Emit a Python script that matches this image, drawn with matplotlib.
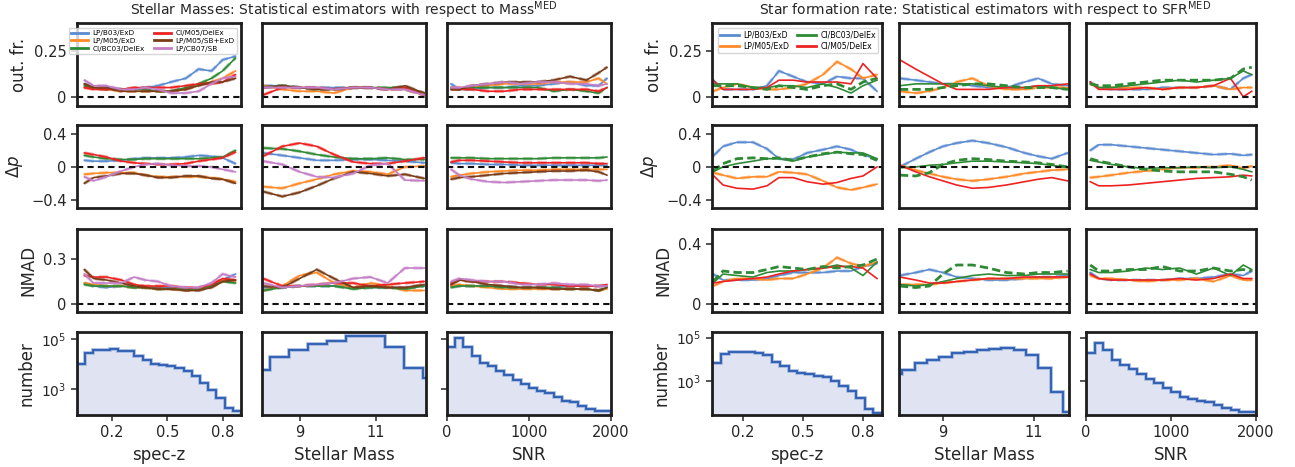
import numpy as np
import matplotlib
matplotlib.use('Agg')
import matplotlib.pyplot as plt
from matplotlib.lines import Line2D
from matplotlib.ticker import LogLocator, NullFormatter, FixedLocator, FixedFormatter

plt.rcParams['font.family'] = ['DejaVu Sans']
plt.rcParams['mathtext.fontset'] = 'dejavusans'

# ---------------------------------------------------------------- data
NAMES_M = ['LP/B03/ExD', 'LP/M05/ExD', 'CI/BC03/DelEx', 'CI/M05/DelEx', 'LP/M05/SB+ExD', 'LP/CB07/SB']
NAMES_S = ['LP/B03/ExD', 'LP/M05/ExD', 'CI/BC03/DelEx', 'CI/M05/DelEx']
COLORS = {'LP/B03/ExD': '#5b8bd0', 'LP/M05/ExD': '#ff8a27', 'CI/BC03/DelEx': '#2e8a35',
          'CI/M05/DelEx': '#ee2222', 'LP/M05/SB+ExD': '#7a3b17', 'LP/CB07/SB': '#c47fc7'}

Z_X = [0.05, 0.10, 0.17, 0.25, 0.32, 0.38, 0.45, 0.52, 0.60, 0.67, 0.74, 0.80, 0.87]
M_X = [8.05, 8.55, 9.0, 9.45, 9.9, 10.4, 10.85, 11.3, 11.75, 12.25]
MR_X = [8.05, 8.4, 8.7, 9.0, 9.3, 9.65, 10.0, 10.4, 10.8, 11.1, 11.4, 11.75]
S_X = [50, 150, 300, 500, 700, 900, 1100, 1300, 1500, 1700, 1850, 1950]

# ---- Stellar mass group: outlier fraction
MASS_OUT_Z = {
    'LP/B03/ExD':    [0.07, 0.05, 0.05, 0.04, 0.04, 0.05, 0.06, 0.08, 0.10, 0.15, 0.14, 0.20, 0.22],
    'LP/M05/ExD':    [0.05, 0.05, 0.04, 0.03, 0.03, 0.03, 0.03, 0.03, 0.04, 0.07, 0.08, 0.10, 0.14],
    'CI/BC03/DelEx': [0.06, 0.05, 0.04, 0.04, 0.04, 0.04, 0.03, 0.03, 0.05, 0.07, 0.10, 0.14, 0.21],
    'CI/M05/DelEx':  [0.05, 0.04, 0.04, 0.04, 0.05, 0.05, 0.05, 0.05, 0.06, 0.07, 0.07, 0.08, 0.12],
    'LP/M05/SB+ExD': [0.07, 0.05, 0.05, 0.03, 0.03, 0.03, 0.03, 0.03, 0.04, 0.06, 0.08, 0.08, 0.10],
    'LP/CB07/SB':    [0.09, 0.06, 0.06, 0.04, 0.04, 0.05, 0.04, 0.02, 0.02, 0.03, 0.07, 0.10, 0.11],
}
MASS_OUT_M = {
    'LP/B03/ExD':    [0.06, 0.06, 0.05, 0.05, 0.05, 0.05, 0.05, 0.04, 0.04, 0.01],
    'LP/M05/ExD':    [0.06, 0.04, 0.03, 0.03, 0.02, 0.05, 0.05, 0.04, 0.04, 0.01],
    'CI/BC03/DelEx': [0.05, 0.06, 0.05, 0.04, 0.04, 0.05, 0.05, 0.05, 0.05, 0.02],
    'CI/M05/DelEx':  [0.01, 0.05, 0.05, 0.05, 0.04, 0.05, 0.05, 0.04, 0.05, 0.01],
    'LP/M05/SB+ExD': [0.05, 0.06, 0.05, 0.04, 0.04, 0.05, 0.05, 0.04, 0.06, 0.02],
    'LP/CB07/SB':    [0.05, 0.05, 0.05, 0.05, 0.04, 0.05, 0.05, 0.04, 0.04, 0.01],
}
MASS_OUT_S = {
    'LP/B03/ExD':    [0.07, 0.04, 0.04, 0.05, 0.05, 0.06, 0.06, 0.07, 0.08, 0.06, 0.06, 0.10],
    'LP/M05/ExD':    [0.05, 0.05, 0.05, 0.06, 0.07, 0.07, 0.07, 0.08, 0.08, 0.08, 0.10, 0.07],
    'CI/BC03/DelEx': [0.05, 0.04, 0.05, 0.05, 0.05, 0.05, 0.05, 0.03, 0.04, 0.03, 0.02, 0.05],
    'CI/M05/DelEx':  [0.04, 0.04, 0.04, 0.03, 0.03, 0.04, 0.04, 0.04, 0.04, 0.04, 0.03, 0.05],
    'LP/M05/SB+ExD': [0.04, 0.04, 0.06, 0.07, 0.08, 0.08, 0.08, 0.09, 0.11, 0.09, 0.13, 0.16],
    'LP/CB07/SB':    [0.05, 0.05, 0.06, 0.07, 0.08, 0.07, 0.08, 0.08, 0.07, 0.07, 0.06, 0.07],
}
# ---- Stellar mass group: bias
MASS_DP_Z = {
    'LP/B03/ExD':    [0.08, 0.07, 0.07, 0.08, 0.10, 0.11, 0.11, 0.11, 0.12, 0.14, 0.13, 0.11, 0.04],
    'LP/M05/ExD':    [-0.09, -0.08, -0.07, -0.07, -0.07, -0.10, -0.12, -0.12, -0.12, -0.12, -0.13, -0.15, -0.18],
    'CI/BC03/DelEx': [0.14, 0.12, 0.10, 0.09, 0.09, 0.10, 0.10, 0.10, 0.10, 0.10, 0.11, 0.12, 0.20],
    'CI/M05/DelEx':  [0.17, 0.15, 0.12, 0.07, 0.05, 0.04, 0.03, 0.03, 0.04, 0.07, 0.09, 0.11, 0.18],
    'LP/M05/SB+ExD': [-0.20, -0.13, -0.11, -0.08, -0.08, -0.10, -0.13, -0.13, -0.11, -0.11, -0.14, -0.15, -0.20],
    'LP/CB07/SB':    [-0.12, -0.17, -0.12, -0.05, 0.00, 0.03, 0.04, 0.02, 0.01, 0.01, 0.00, -0.03, -0.06],
}
MASS_DP_M = {
    'LP/B03/ExD':    [0.17, 0.14, 0.11, 0.08, 0.08, 0.09, 0.09, 0.08, 0.07, 0.05],
    'LP/M05/ExD':    [-0.24, -0.26, -0.20, -0.15, -0.09, -0.05, -0.06, -0.09, 0.00, 0.01],
    'CI/BC03/DelEx': [0.23, 0.22, 0.19, 0.15, 0.12, 0.10, 0.10, 0.11, 0.09, 0.09],
    'CI/M05/DelEx':  [0.13, 0.25, 0.29, 0.25, 0.15, 0.06, 0.04, 0.04, 0.07, 0.11],
    'LP/M05/SB+ExD': [-0.30, -0.36, -0.31, -0.23, -0.14, -0.06, -0.08, -0.11, -0.09, -0.14],
    'LP/CB07/SB':    [0.07, 0.03, -0.06, -0.12, -0.13, -0.08, 0.02, 0.04, -0.16, -0.17],
}
MASS_DP_S = {
    'LP/B03/ExD':    [0.05, 0.04, 0.04, 0.03, 0.03, 0.02, 0.02, 0.02, 0.02, 0.02, 0.02, 0.02],
    'LP/M05/ExD':    [-0.12, -0.10, -0.08, -0.06, -0.05, -0.04, -0.04, -0.03, -0.03, -0.03, -0.03, -0.03],
    'CI/BC03/DelEx': [0.11, 0.11, 0.11, 0.10, 0.10, 0.10, 0.10, 0.11, 0.11, 0.11, 0.11, 0.12],
    'CI/M05/DelEx':  [0.06, 0.08, 0.08, 0.07, 0.06, 0.05, 0.05, 0.05, 0.05, 0.05, 0.04, 0.04],
    'LP/M05/SB+ExD': [-0.15, -0.13, -0.12, -0.10, -0.08, -0.07, -0.06, -0.05, -0.05, -0.04, -0.06, -0.10],
    'LP/CB07/SB':    [-0.03, -0.10, -0.15, -0.18, -0.19, -0.18, -0.17, -0.16, -0.16, -0.16, -0.17, -0.16],
}
# ---- Stellar mass group: NMAD
MASS_NMAD_Z = {
    'LP/B03/ExD':    [0.14, 0.12, 0.11, 0.12, 0.11, 0.11, 0.11, 0.11, 0.10, 0.10, 0.12, 0.16, 0.20],
    'LP/M05/ExD':    [0.14, 0.13, 0.12, 0.12, 0.11, 0.11, 0.10, 0.10, 0.09, 0.10, 0.12, 0.16, 0.15],
    'CI/BC03/DelEx': [0.13, 0.12, 0.12, 0.12, 0.11, 0.11, 0.10, 0.10, 0.10, 0.10, 0.12, 0.15, 0.14],
    'CI/M05/DelEx':  [0.19, 0.18, 0.18, 0.16, 0.13, 0.12, 0.12, 0.12, 0.11, 0.11, 0.13, 0.17, 0.16],
    'LP/M05/SB+ExD': [0.23, 0.17, 0.16, 0.14, 0.12, 0.11, 0.10, 0.10, 0.09, 0.09, 0.11, 0.15, 0.16],
    'LP/CB07/SB':    [0.20, 0.14, 0.14, 0.14, 0.18, 0.16, 0.15, 0.12, 0.11, 0.11, 0.14, 0.20, 0.18],
}
MASS_NMAD_M = {
    'LP/B03/ExD':    [0.11, 0.11, 0.12, 0.12, 0.12, 0.11, 0.11, 0.11, 0.11, 0.12],
    'LP/M05/ExD':    [0.09, 0.12, 0.19, 0.21, 0.14, 0.11, 0.14, 0.12, 0.09, 0.09],
    'CI/BC03/DelEx': [0.09, 0.11, 0.12, 0.12, 0.12, 0.10, 0.11, 0.11, 0.10, 0.12],
    'CI/M05/DelEx':  [0.17, 0.12, 0.12, 0.13, 0.14, 0.14, 0.12, 0.13, 0.14, 0.15],
    'LP/M05/SB+ExD': [0.12, 0.11, 0.17, 0.23, 0.17, 0.11, 0.12, 0.11, 0.11, 0.13],
    'LP/CB07/SB':    [0.14, 0.11, 0.12, 0.13, 0.14, 0.17, 0.18, 0.14, 0.24, 0.24],
}
MASS_NMAD_S = {
    'LP/B03/ExD':    [0.12, 0.12, 0.12, 0.12, 0.12, 0.11, 0.11, 0.11, 0.12, 0.12, 0.12, 0.12],
    'LP/M05/ExD':    [0.12, 0.13, 0.12, 0.11, 0.10, 0.10, 0.10, 0.10, 0.10, 0.10, 0.09, 0.10],
    'CI/BC03/DelEx': [0.11, 0.12, 0.12, 0.12, 0.11, 0.11, 0.11, 0.11, 0.10, 0.10, 0.09, 0.11],
    'CI/M05/DelEx':  [0.14, 0.16, 0.15, 0.15, 0.15, 0.14, 0.13, 0.13, 0.12, 0.12, 0.12, 0.13],
    'LP/M05/SB+ExD': [0.13, 0.16, 0.15, 0.13, 0.12, 0.11, 0.11, 0.10, 0.10, 0.10, 0.09, 0.11],
    'LP/CB07/SB':    [0.15, 0.17, 0.16, 0.15, 0.15, 0.13, 0.13, 0.14, 0.13, 0.13, 0.12, 0.12],
}

# ---- SFR group (solid lines) ; green dashed variant separately
SFR_OUT_Z = {
    'LP/B03/ExD':    [0.09, 0.04, 0.04, 0.04, 0.06, 0.14, 0.11, 0.08, 0.07, 0.11, 0.10, 0.10, 0.03],
    'LP/M05/ExD':    [0.03, 0.05, 0.07, 0.05, 0.04, 0.04, 0.05, 0.07, 0.12, 0.19, 0.15, 0.10, 0.12],
    'CI/BC03/DelEx': [0.07, 0.07, 0.07, 0.05, 0.05, 0.06, 0.06, 0.05, 0.07, 0.05, 0.02, 0.06, 0.09],
    'CI/M05/DelEx':  [0.09, 0.04, 0.04, 0.04, 0.05, 0.09, 0.09, 0.08, 0.08, 0.08, 0.07, 0.18, 0.10],
}
SFR_OUT_Z_GREEN_DASH = [0.06, 0.06, 0.06, 0.05, 0.04, 0.06, 0.05, 0.04, 0.06, 0.07, 0.04, 0.08, 0.10]
SFR_OUT_M = {
    'LP/B03/ExD':    [0.10, 0.09, 0.08, 0.07, 0.07, 0.06, 0.05, 0.05, 0.08, 0.10, 0.07, 0.06],
    'LP/M05/ExD':    [0.03, 0.02, 0.03, 0.05, 0.08, 0.10, 0.06, 0.04, 0.04, 0.05, 0.05, 0.05],
    'CI/BC03/DelEx': [0.06, 0.07, 0.07, 0.07, 0.07, 0.07, 0.06, 0.05, 0.05, 0.06, 0.05, 0.04],
    'CI/M05/DelEx':  [0.20, 0.15, 0.11, 0.07, 0.04, 0.04, 0.04, 0.05, 0.05, 0.06, 0.06, 0.07],
}
SFR_OUT_M_GREEN_DASH = [0.04, 0.04, 0.04, 0.05, 0.06, 0.07, 0.07, 0.06, 0.05, 0.05, 0.05, 0.04]
SFR_OUT_S = {
    'LP/B03/ExD':    [0.08, 0.05, 0.04, 0.04, 0.04, 0.05, 0.05, 0.05, 0.06, 0.04, 0.10, 0.12],
    'LP/M05/ExD':    [0.07, 0.05, 0.05, 0.05, 0.05, 0.04, 0.05, 0.05, 0.06, 0.04, 0.05, 0.05],
    'CI/BC03/DelEx': [0.07, 0.05, 0.05, 0.06, 0.07, 0.08, 0.09, 0.08, 0.09, 0.10, 0.14, 0.12],
    'CI/M05/DelEx':  [0.08, 0.04, 0.04, 0.04, 0.05, 0.04, 0.05, 0.05, 0.06, 0.10, 0.00, 0.03],
}
SFR_OUT_S_GREEN_DASH = [0.07, 0.06, 0.06, 0.07, 0.08, 0.09, 0.09, 0.09, 0.09, 0.10, 0.15, 0.16]

SFR_DP_Z = {
    'LP/B03/ExD':    [0.13, 0.25, 0.30, 0.30, 0.22, 0.10, 0.09, 0.17, 0.21, 0.25, 0.21, 0.15, 0.09],
    'LP/M05/ExD':    [-0.07, -0.10, -0.14, -0.12, -0.12, -0.06, -0.07, -0.09, -0.17, -0.25, -0.28, -0.25, -0.21],
    'CI/BC03/DelEx': [-0.06, 0.00, 0.04, 0.07, 0.10, 0.10, 0.07, 0.12, 0.15, 0.18, 0.17, 0.17, 0.10],
    'CI/M05/DelEx':  [-0.10, -0.22, -0.26, -0.27, -0.23, -0.13, -0.13, -0.18, -0.21, -0.19, -0.14, -0.11, 0.00],
}
SFR_DP_Z_GREEN_DASH = [-0.05, 0.04, 0.10, 0.11, 0.10, 0.11, 0.08, 0.12, 0.16, 0.18, 0.16, 0.15, 0.08]
SFR_DP_M = {
    'LP/B03/ExD':    [0.00, 0.10, 0.18, 0.25, 0.29, 0.32, 0.29, 0.24, 0.17, 0.13, 0.10, 0.17],
    'LP/M05/ExD':    [0.02, -0.04, -0.08, -0.12, -0.15, -0.17, -0.15, -0.12, -0.08, -0.06, -0.04, -0.03],
    'CI/BC03/DelEx': [-0.01, 0.00, 0.02, 0.03, 0.05, 0.07, 0.07, 0.06, 0.05, 0.04, 0.02, -0.01],
    'CI/M05/DelEx':  [0.02, -0.06, -0.12, -0.17, -0.22, -0.26, -0.25, -0.22, -0.18, -0.15, -0.13, -0.17],
}
SFR_DP_M_GREEN_DASH = [-0.10, -0.11, -0.07, 0.03, 0.08, 0.10, 0.09, 0.07, 0.06, 0.05, 0.03, 0.00]
SFR_DP_S = {
    'LP/B03/ExD':    [0.20, 0.27, 0.27, 0.25, 0.23, 0.21, 0.19, 0.17, 0.15, 0.16, 0.14, 0.15],
    'LP/M05/ExD':    [-0.13, -0.12, -0.10, -0.07, -0.05, -0.03, -0.01, -0.01, 0.00, 0.02, -0.02, 0.01],
    'CI/BC03/DelEx': [0.08, 0.06, 0.03, 0.00, -0.02, -0.01, -0.01, 0.00, -0.01, 0.00, -0.03, -0.06],
    'CI/M05/DelEx':  [-0.18, -0.23, -0.23, -0.22, -0.20, -0.18, -0.16, -0.14, -0.13, -0.12, -0.10, -0.11],
}
SFR_DP_S_GREEN_DASH = [0.10, 0.07, 0.04, 0.00, -0.03, -0.05, -0.06, -0.06, -0.06, -0.09, -0.12, -0.16]

SFR_NMAD_Z = {
    'LP/B03/ExD':    [0.20, 0.16, 0.16, 0.16, 0.17, 0.19, 0.21, 0.21, 0.21, 0.22, 0.22, 0.25, 0.27],
    'LP/M05/ExD':    [0.12, 0.15, 0.17, 0.17, 0.16, 0.17, 0.17, 0.20, 0.24, 0.31, 0.27, 0.25, 0.28],
    'CI/BC03/DelEx': [0.14, 0.20, 0.19, 0.18, 0.21, 0.22, 0.22, 0.23, 0.24, 0.26, 0.24, 0.19, 0.28],
    'CI/M05/DelEx':  [0.14, 0.15, 0.16, 0.17, 0.18, 0.20, 0.22, 0.23, 0.24, 0.25, 0.25, 0.24, 0.17],
}
SFR_NMAD_Z_GREEN_DASH = [0.15, 0.22, 0.21, 0.21, 0.23, 0.25, 0.24, 0.23, 0.25, 0.24, 0.25, 0.26, 0.30]
SFR_NMAD_M = {
    'LP/B03/ExD':    [0.19, 0.21, 0.23, 0.21, 0.18, 0.17, 0.16, 0.16, 0.17, 0.18, 0.18, 0.19],
    'LP/M05/ExD':    [0.13, 0.13, 0.13, 0.14, 0.15, 0.16, 0.17, 0.17, 0.17, 0.17, 0.17, 0.18],
    'CI/BC03/DelEx': [0.13, 0.12, 0.13, 0.15, 0.17, 0.19, 0.20, 0.19, 0.19, 0.20, 0.20, 0.20],
    'CI/M05/DelEx':  [0.18, 0.16, 0.14, 0.14, 0.15, 0.16, 0.17, 0.17, 0.18, 0.18, 0.18, 0.18],
}
SFR_NMAD_M_GREEN_DASH = [0.12, 0.11, 0.12, 0.20, 0.26, 0.26, 0.24, 0.21, 0.20, 0.21, 0.21, 0.22]
SFR_NMAD_S = {
    'LP/B03/ExD':    [0.21, 0.17, 0.16, 0.16, 0.16, 0.16, 0.17, 0.17, 0.18, 0.20, 0.19, 0.22],
    'LP/M05/ExD':    [0.19, 0.17, 0.17, 0.16, 0.15, 0.16, 0.16, 0.17, 0.15, 0.19, 0.16, 0.16],
    'CI/BC03/DelEx': [0.23, 0.21, 0.21, 0.22, 0.24, 0.23, 0.24, 0.20, 0.24, 0.19, 0.26, 0.23],
    'CI/M05/DelEx':  [0.20, 0.17, 0.16, 0.16, 0.16, 0.16, 0.17, 0.16, 0.17, 0.20, 0.17, 0.17],
}
SFR_NMAD_S_GREEN_DASH = [0.26, 0.22, 0.22, 0.23, 0.23, 0.25, 0.22, 0.22, 0.24, 0.22, 0.23, 0.22]

# ---- histograms (counts per bin)
MASS_HZ_EDGES = np.linspace(0.01, 0.90, 21)
MASS_HZ = [10000, 27500, 37000, 37000, 40000, 31600, 31600, 20000, 14800, 10000,
           9300, 8500, 6800, 5000, 3200, 1700, 910, 420, 166, 126]
MASS_HM_EDGES = np.linspace(7.72, 12.72, 11)
MASS_HM = [5900, 18200, 36300, 63000, 85000, 126000, 126000, 45700, 6760, 2700]
HS_EDGES = np.linspace(0, 2000, 21)
MASS_HS = [46800, 107000, 49000, 20900, 11200, 8300, 5250, 3630, 2290, 1580,
           1120, 830, 680, 470, 330, 295, 215, 162, 135, 129]

SFR_HZ_EDGES = np.linspace(0.045, 0.895, 21)
SFR_HZ = [6900, 17400, 22400, 21400, 20900, 18600, 15500, 7600, 4800, 2950,
          2340, 2190, 1780, 1550, 1000, 600, 370, 166, 55, 36]
SFR_HM_EDGES = np.linspace(7.83, 11.925, 16)
SFR_HM = [2190, 3390, 6460, 9120, 13200, 18600, 20900, 26900, 29500, 31600,
          26900, 15500, 4170, 330, 40]
SFR_HS = [18600, 58900, 26900, 9120, 5370, 3720, 2190, 1290, 810, 490,
          310, 195, 151, 126, 105, 79, 58, 47, 40, 39]

# ---------------------------------------------------------------- layout
W, H = 1295, 467
fig = plt.figure(figsize=(W / 100, H / 100), dpi=100)

ROW_TOP = [23, 125, 229, 332]
ROW_H = 83
LEFT_X = [77, 262, 447]
LEFT_W = 164
RIGHT_X = [712, 899, 1086]
RIGHT_W = 170

SPINE = '#1e1e1e'
TICKC = '#262626'


def add_ax(x0, top, w, h):
    ax = fig.add_axes([x0 / W, 1 - (top + h) / H, w / W, h / H])
    for s in ax.spines.values():
        s.set_linewidth(2.0)
        s.set_color(SPINE)
    ax.tick_params(colors=TICKC, labelcolor=TICKC, labelsize=10.5, width=1.1, length=4)
    return ax


def line_panel(ax, x, data, dash_same, green_dash=None):
    for name, vals in data.items():
        c = COLORS[name]
        if name in dash_same:
            ax.plot(x, vals, color=c, lw=2.3, ls='--', alpha=0.45, dashes=(3, 1.5))
        ax.plot(x, vals, color=c, lw=1.2)
    if green_dash is not None:
        ax.plot(x, green_dash, color=COLORS['CI/BC03/DelEx'], lw=2.0, ls='--', dashes=(3, 1.5))
    ax.axhline(0, color='#111111', ls='--', lw=1.5, dashes=(3, 2))


def hist_panel(ax, edges, counts):
    ax.stairs(counts, edges, fill=True, color='#dfe3f2', baseline=1)
    ax.stairs(counts, edges, color='#9db3de', lw=2.6)
    ax.stairs(counts, edges, color='#2c5cb0', lw=1.3)
    ax.set_yscale('log')


XLIMS_L = [(0.01, 0.90), (8.02, 12.3), (0, 2000)]
XLIMS_R = [(0.045, 0.895), (8.03, 11.78), (0, 2000)]
XTICKS = [([0.2, 0.5, 0.8], ['0.2', '0.5', '0.8']), ([9, 11], ['9', '11']),
          ([0, 1000, 2000], ['0', '1000', '2000'])]
XLABELS = ['spec-z', 'Stellar Mass', 'SNR']


def build_group(xs, w, xlims, grids, rows, hists, hist_ylim, nmad_ticks, dash_same, green_dashes):
    axes = [[None] * 3 for _ in range(4)]
    for r in range(4):
        for c in range(3):
            ax = add_ax(xs[c], ROW_TOP[r], w, ROW_H)
            axes[r][c] = ax
            ax.set_xlim(*xlims[c])
            if r < 3:
                gd = green_dashes[r][c] if green_dashes is not None else None
                line_panel(ax, grids[c], rows[r][c], dash_same, gd)
                ax.tick_params(bottom=False, labelbottom=False)
                if r == 0:
                    ax.set_ylim(-0.05, 0.40)
                    ax.set_yticks([0, 0.25])
                    ax.set_yticklabels(['0', '0.25'])
                elif r == 1:
                    ax.set_ylim(-0.5, 0.51)
                    ax.set_yticks([-0.4, 0, 0.4])
                    ax.set_yticklabels(['\u22120.4', '0', '0.4'])
                else:
                    ax.set_ylim(-0.053, 0.5)
                    ax.set_yticks([0, nmad_ticks])
                    ax.set_yticklabels(['0', str(nmad_ticks)])
                if c > 0:
                    ax.tick_params(left=False, labelleft=False)
            else:
                edges, counts = hists[c]
                hist_panel(ax, edges, counts)
                ax.set_ylim(*hist_ylim)
                ax.yaxis.set_major_locator(FixedLocator([1e3, 1e5]))
                ax.yaxis.set_major_formatter(FixedFormatter(['$10^3$', '$10^5$']))
                ax.yaxis.set_minor_locator(LogLocator(base=10, subs=np.arange(2, 10)))
                ax.yaxis.set_minor_formatter(NullFormatter())
                ax.tick_params(axis='y', labelsize=10)
                ax.tick_params(axis='y', which='minor', length=2.2, width=0.8, colors=TICKC)
                if c == 0:
                    ax.tick_params(axis='y', which='minor', left=False)
                elif c == 1:
                    ax.tick_params(axis='y', which='both', left=False, labelleft=False)
                else:
                    ax.tick_params(axis='y', which='major', labelleft=False)
                ax.set_xticks(XTICKS[c][0])
                ax.set_xticklabels(XTICKS[c][1])
                ax.set_xlabel(XLABELS[c], fontsize=12, color=TICKC, labelpad=4)
    labels = ['out. fr.', r'$\Delta p$', 'NMAD', 'number']
    for r in range(4):
        axes[r][0].set_ylabel(labels[r], fontsize=12, color=TICKC, labelpad=4)
    return axes


# ---- left group
rows_m = [[MASS_OUT_Z, MASS_OUT_M, MASS_OUT_S],
          [MASS_DP_Z, MASS_DP_M, MASS_DP_S],
          [MASS_NMAD_Z, MASS_NMAD_M, MASS_NMAD_S]]
hists_m = [(MASS_HZ_EDGES, MASS_HZ), (MASS_HM_EDGES, MASS_HM), (HS_EDGES, MASS_HS)]
axL = build_group(LEFT_X, LEFT_W, XLIMS_L, [Z_X, M_X, S_X], rows_m, hists_m,
                  (90, 1.9e5), 0.3, set(NAMES_M), None)

# ---- right group
rows_s = [[SFR_OUT_Z, SFR_OUT_M, SFR_OUT_S],
          [SFR_DP_Z, SFR_DP_M, SFR_DP_S],
          [SFR_NMAD_Z, SFR_NMAD_M, SFR_NMAD_S]]
gd_s = [[SFR_OUT_Z_GREEN_DASH, SFR_OUT_M_GREEN_DASH, SFR_OUT_S_GREEN_DASH],
        [SFR_DP_Z_GREEN_DASH, SFR_DP_M_GREEN_DASH, SFR_DP_S_GREEN_DASH],
        [SFR_NMAD_Z_GREEN_DASH, SFR_NMAD_M_GREEN_DASH, SFR_NMAD_S_GREEN_DASH]]
hists_s = [(SFR_HZ_EDGES, SFR_HZ), (SFR_HM_EDGES, SFR_HM), (HS_EDGES, SFR_HS)]
axR = build_group(RIGHT_X, RIGHT_W, XLIMS_R, [Z_X, MR_X, S_X], rows_s, hists_s,
                  (28, 1.8e5), 0.4, {'LP/B03/ExD', 'LP/M05/ExD'}, gd_s)

# ---- legends
hM = [Line2D([], [], color=COLORS[n], lw=2) for n in NAMES_M]
axL[0][0].legend(hM, NAMES_M, ncol=2, loc='upper right', fontsize=5.2, frameon=True,
                 framealpha=0.8, edgecolor='#cccccc', borderpad=0.3, labelspacing=0.25,
                 handlelength=2.4, columnspacing=1.2, handletextpad=0.6,
                 bbox_to_anchor=(0.995, 0.985))
hS = [Line2D([], [], color=COLORS[n], lw=2) for n in NAMES_S]
axR[0][0].legend(hS, NAMES_S, ncol=2, loc='upper left', fontsize=5.6, frameon=True,
                 framealpha=0.8, edgecolor='#cccccc', borderpad=0.3, labelspacing=0.3,
                 handlelength=2.4, columnspacing=1.0, handletextpad=0.6,
                 bbox_to_anchor=(0.01, 0.985))

# ---- titles
fig.text(344 / W, 1 - 10 / H, r'Stellar Masses: Statistical estimators with respect to Mass$^{\mathrm{MED}}$',
         ha='center', va='center', fontsize=10, color=TICKC)
fig.text(985 / W, 1 - 10 / H, r'Star formation rate: Statistical estimators with respect to SFR$^{\mathrm{MED}}$',
         ha='center', va='center', fontsize=10, color=TICKC)

fig.savefig('out.png', dpi=100)
